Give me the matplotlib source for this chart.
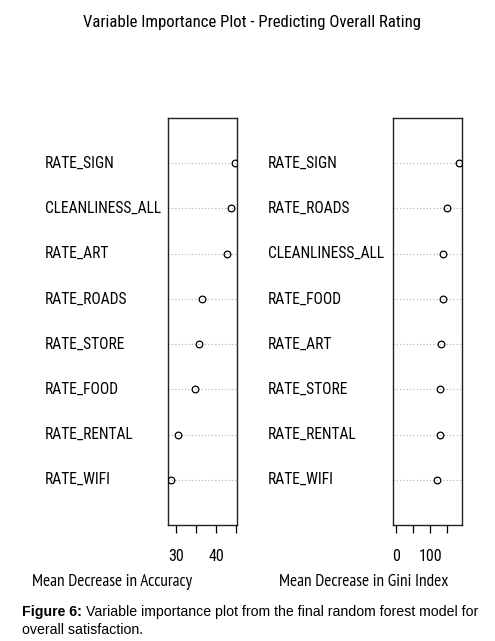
import matplotlib
matplotlib.use('Agg')
import matplotlib.pyplot as plt
from matplotlib.transforms import blended_transform_factory

# left panel: Mean Decrease in Accuracy (top to bottom)
acc_vars = ['RATE_SIGN', 'CLEANLINESS_ALL', 'RATE_ART', 'RATE_ROADS',
            'RATE_STORE', 'RATE_FOOD', 'RATE_RENTAL', 'RATE_WIFI']
acc_vals = [44.7, 43.7, 42.8, 36.5, 35.7, 34.8, 30.4, 28.6]

# right panel: Mean Decrease in Gini Index (top to bottom)
gini_vars = ['RATE_SIGN', 'RATE_ROADS', 'CLEANLINESS_ALL', 'RATE_FOOD',
             'RATE_ART', 'RATE_STORE', 'RATE_RENTAL', 'RATE_WIFI']
gini_vals = [184, 148, 138, 137, 132, 129, 128, 121]

acc_ticks = [30, 35, 40, 45]
acc_ticklabels = ['30', '', '40', '']
gini_ticks = [0, 50, 100, 150]
gini_ticklabels = ['0', '', '100', '']

W, H = 495, 641
narrow = ['Roboto Condensed', 'DejaVu Sans']
label_font = ['PT Sans Narrow', 'Roboto Condensed', 'DejaVu Sans']
caption_font = ['Liberation Sans', 'DejaVu Sans']

fig = plt.figure(figsize=(W / 100, H / 100), dpi=100)
fig.patch.set_facecolor('white')


def panel(left_px, right_px, label_px, names, vals, xlim, ticks, ticklabels,
          xlabel, xlabel_px):
    ax = fig.add_axes([left_px / W, (H - 525) / H, (right_px - left_px) / W, 407 / H])
    n = len(names)
    ys = list(range(n, 0, -1))
    for y in ys:
        ax.axhline(y, color='#b0b0b0', lw=0.8, ls=(0, (1, 2)), zorder=1)
    ax.plot(vals, ys, 'o', mfc='none', mec='black', ms=4.8, mew=0.9, zorder=3)
    ax.set_xlim(*xlim)
    ax.set_ylim(0, n + 1)
    ax.set_yticks([])
    ax.set_xticks(ticks)
    ax.set_xticklabels(ticklabels, family=narrow, fontsize=11.5)
    ax.tick_params(axis='x', direction='out', length=6, width=0.9, pad=11)
    for s in ax.spines.values():
        s.set_linewidth(1.0)
        s.set_color('#222222')
    tr = blended_transform_factory(fig.transFigure, ax.transData)
    for y, name in zip(ys, names):
        ax.text(label_px / W, y, name, transform=tr, ha='left', va='center',
                family=narrow, fontsize=11.2, clip_on=False)
    fig.text(xlabel_px / W, 1 - 582 / H, xlabel, ha='center', va='center',
             family=label_font, fontsize=12.4)
    return ax


lo = min(acc_vals)
hi = max(acc_vals)
ext = (hi - lo) * 0.04
panel(168.3, 237.3, 45, acc_vars, acc_vals, (lo - ext, hi + ext),
      acc_ticks, acc_ticklabels, 'Mean Decrease in Accuracy', 112.5)

ghi = max(gini_vals)
panel(393.3, 461.7, 268, gini_vars, gini_vals, (-ghi * 0.04, ghi * 1.04),
      gini_ticks, gini_ticklabels, 'Mean Decrease in Gini Index', 364)

fig.text(252 / W, 1 - 23 / H, 'Variable Importance Plot - Predicting Overall Rating',
         ha='center', va='center', family=narrow, fontsize=12.1)

fig.text(22 / W, 1 - 612 / H, 'Figure 6:', ha='left', va='center',
         family=caption_font, fontweight='bold', fontsize=10.15)
fig.text(86 / W, 1 - 612 / H, 'Variable importance plot from the final random forest model for',
         ha='left', va='center', family=caption_font, fontsize=10.15)
fig.text(22 / W, 1 - 630 / H, 'overall satisfaction.', ha='left', va='center',
         family=caption_font, fontsize=10.15)

fig.savefig('out.png', dpi=100)
